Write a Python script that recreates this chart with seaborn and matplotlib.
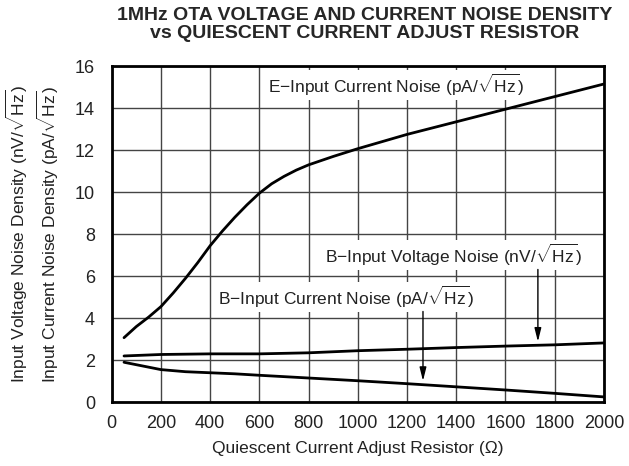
import numpy as np
import pandas as pd
import matplotlib
matplotlib.use("Agg")
import matplotlib.pyplot as plt
import seaborn as sns

# data
e_cur_x = [50, 100, 150, 200, 250, 300, 350, 400, 450, 500, 550, 600, 650, 700, 750, 800,
           900, 1000, 1200, 1400, 1600, 1800, 2000]
e_cur_y = [3.07, 3.6, 4.05, 4.55, 5.2, 5.9, 6.65, 7.45, 8.15, 8.8, 9.4, 9.95, 10.4, 10.75, 11.05, 11.3,
           11.7, 12.07, 12.75, 13.35, 13.95, 14.55, 15.15]

b_volt_x = [50, 200, 400, 600, 800, 1000, 1200, 1400, 1600, 1800, 2000]
b_volt_y = [2.2, 2.27, 2.3, 2.3, 2.35, 2.45, 2.52, 2.6, 2.67, 2.73, 2.82]

b_cur_x = [50, 200, 300, 400, 500, 600, 800, 1000, 1200, 1400, 1600, 1800, 2000]
b_cur_y = [1.9, 1.55, 1.45, 1.4, 1.35, 1.28, 1.15, 1.02, 0.88, 0.73, 0.58, 0.42, 0.25]

x_ticks = list(range(0, 2001, 200))
y_ticks = list(range(0, 17, 2))

sqrt_hz = r"$\sqrt{\mathrm{Hz}}$"
title = "1MHz OTA VOLTAGE AND CURRENT NOISE DENSITY\nvs QUIESCENT CURRENT ADJUST RESISTOR"
xlabel = "Quiescent Current Adjust Resistor (\u03a9)"
ylabel = ("Input Voltage Noise Density (nV/" + sqrt_hz + ")\n"
          "Input Current Noise Density (pA/" + sqrt_hz + ")")

sns.set_style("white")
plt.rcParams["font.family"] = ["Liberation Sans", "DejaVu Sans"]
plt.rcParams["mathtext.fontset"] = "custom"
plt.rcParams["mathtext.rm"] = "Liberation Sans"
plt.rcParams["mathtext.it"] = "Liberation Sans:italic"
plt.rcParams["mathtext.bf"] = "Liberation Sans:bold"

txt_col = "#222222"

fig = plt.figure(figsize=(6.29, 4.66), dpi=100)
ax = fig.add_axes([0.1776, 0.137, 0.7824, 0.721])

for xs, ys in [(e_cur_x, e_cur_y), (b_volt_x, b_volt_y), (b_cur_x, b_cur_y)]:
    sns.lineplot(x=xs, y=ys, ax=ax, color="black", linewidth=2, zorder=3)

ax.set_xlim(0, 2000)
ax.set_ylim(0, 16)
ax.set_xticks(x_ticks)
ax.set_yticks(y_ticks)
ax.grid(True, color="#444444", linewidth=1)
ax.set_axisbelow(True)
ax.tick_params(length=0, labelsize=13, colors=txt_col)
ax.tick_params(axis="y", pad=12)
ax.tick_params(axis="x", pad=9)
for sp in ax.spines.values():
    sp.set_color("black")
    sp.set_linewidth(2)

ax.set_xlabel(xlabel, fontsize=12.5, color=txt_col, labelpad=7)
ax.set_ylabel(ylabel, fontsize=12.5, color=txt_col, labelpad=10, linespacing=1.25)
fig.suptitle(title, fontsize=14, fontweight="bold", x=0.58, y=0.985, linespacing=1.05)

box = dict(facecolor="white", edgecolor="none", pad=1.5)
ax.text(636, 15.1, "E\u2212Input Current Noise (pA/" + sqrt_hz + ")", fontsize=12.5,
        va="center", ha="left", bbox=box, zorder=4, color=txt_col)
ax.text(867, 7.0, "B\u2212Input Voltage Noise (nV/" + sqrt_hz + ")", fontsize=12.5,
        va="center", ha="left", bbox=box, zorder=4, color=txt_col)
ax.text(432, 5.0, "B\u2212Input Current Noise (pA/" + sqrt_hz + ")", fontsize=12.5,
        va="center", ha="left", bbox=box, zorder=4, color=txt_col)

arrow = dict(arrowstyle="-|>,head_length=0.8,head_width=0.2", color="black", lw=1)
ax.annotate("", xy=(1732, 2.75), xytext=(1732, 6.45), arrowprops=arrow, zorder=5)
ax.annotate("", xy=(1265, 0.88), xytext=(1265, 4.45), arrowprops=arrow, zorder=5)

fig.savefig("out.png", dpi=100)
